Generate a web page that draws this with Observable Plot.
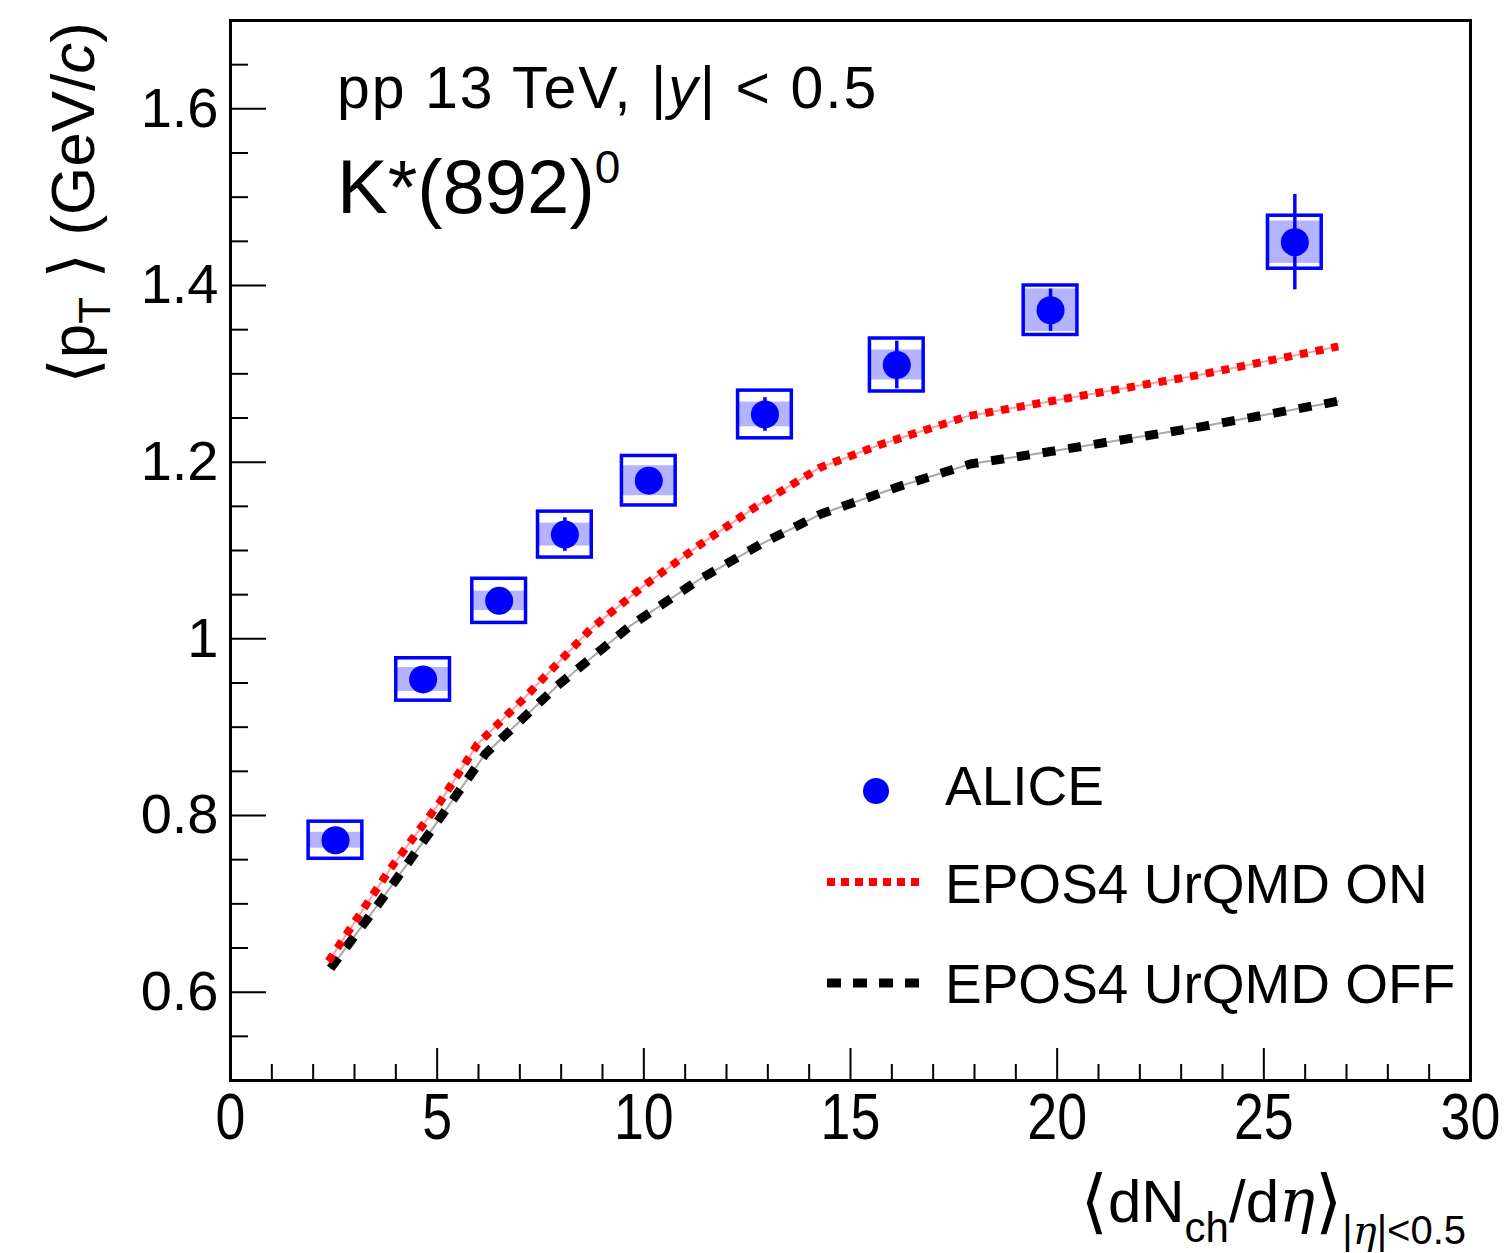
<!DOCTYPE html>
<html><head><meta charset="utf-8">
<script src="https://cdn.jsdelivr.net/npm/d3@7"></script>
<script src="https://cdn.jsdelivr.net/npm/@observablehq/plot@0.6"></script>
<style>
html,body{margin:0;padding:0;background:#fff;}
#chart{width:1507px;height:1253px;}
</style></head><body><div id="chart"></div>
<script>
// ALICE K*(892)0 mean pT vs multiplicity, pp 13 TeV
const dNch      = [2.54, 4.66, 6.50, 8.09, 10.12, 12.93, 16.12, 19.84, 25.75];
const meanPt    = [0.772, 0.954, 1.043, 1.118, 1.179, 1.254, 1.310, 1.372, 1.449];
const statErr   = [0.005, 0.006, 0.009, 0.019, 0.013, 0.019, 0.027, 0.024, 0.054];
const sysTotErr = [0.021, 0.024, 0.025, 0.026, 0.028, 0.027, 0.030, 0.028, 0.030];
const sysUncErr = [0.009, 0.0135, 0.011, 0.013, 0.017, 0.014, 0.017, 0.024, 0.024];

// EPOS4 model curves
const eposOnX  = [2.37, 3.87, 5.08, 5.98, 7.09, 8.71, 10.0, 11.37, 12.82, 14.27, 15.73, 17.83, 19.84, 23.47, 26.8];
const eposOnY  = [0.635, 0.740, 0.816, 0.881, 0.932, 1.011, 1.060, 1.107, 1.153, 1.194, 1.220, 1.252, 1.269, 1.299, 1.331];
const eposOffX = [2.42, 3.63, 4.84, 6.17, 7.91, 9.68, 11.37, 12.82, 14.27, 16.21, 17.9, 19.84, 23.47, 26.8];
const eposOffY = [0.627, 0.703, 0.782, 0.870, 0.947, 1.015, 1.068, 1.107, 1.141, 1.173, 1.198, 1.212, 1.240, 1.269];

const xTicks = [0, 5, 10, 15, 20, 25, 30];
const yTicks = [0.6, 0.8, 1, 1.2, 1.4, 1.6];
const legendLabels = ["ALICE", "EPOS4 UrQMD ON", "EPOS4 UrQMD OFF"];

const W = 1507, H = 1253, mL = 230, mR = 37, mT = 20, mB = 173;
const innerW = W - mL - mR, innerH = H - mT - mB;
const boxHalf = 0.65;
const BLUE = "#0000ff";
const FONT = "'Liberation Sans', Arial, Helvetica, 'DejaVu Sans', sans-serif";
const SERIF = "'DejaVu Serif','Liberation Serif',serif";

const alice = dNch.map((x, i) => ({x, y: meanPt[i], stat: statErr[i], sysT: sysTotErr[i], sysU: sysUncErr[i]}));
const eposOn = eposOnX.map((x, i) => ({x, y: eposOnY[i]}));
const eposOff = eposOffX.map((x, i) => ({x, y: eposOffY[i]}));

const xMinor = d3.range(0, 30.001, 1).filter(v => v % 5 !== 0);
const yMinor = d3.range(0.55, 1.7, 0.05).map(v => +v.toFixed(2)).filter(v => Math.abs(v * 5 - Math.round(v * 5)) > 1e-6);

const plot = Plot.plot({
  width: W, height: H,
  marginLeft: mL, marginRight: mR, marginTop: mT, marginBottom: mB,
  style: {fontFamily: FONT, background: "white", color: "black"},
  x: {domain: [0, 30], label: null},
  y: {domain: [0.5, 1.7], label: null},
  marks: [
    Plot.axisX({ticks: xTicks, tickSize: 0, tickPadding: 13, fontSize: 64, tickFormat: d => String(d), label: null}),
    Plot.axisY({ticks: yTicks, tickSize: 0, tickPadding: 12, fontSize: 56, tickFormat: d => String(d), label: null}),
    Plot.tickX(xTicks, {x: d => d, insetTop: innerH - 32, stroke: "black", strokeWidth: 2}),
    Plot.tickX(xMinor, {x: d => d, insetTop: innerH - 16, stroke: "black", strokeWidth: 2}),
    Plot.tickY(yTicks, {y: d => d, insetRight: innerW - 36, stroke: "black", strokeWidth: 2}),
    Plot.tickY(yMinor, {y: d => d, insetRight: innerW - 18, stroke: "black", strokeWidth: 2}),
    // model curves
    Plot.line(eposOff, {x: "x", y: "y", stroke: "#a8a8a8", strokeWidth: 2}),
    Plot.line(eposOff, {x: "x", y: "y", stroke: "black", strokeWidth: 9, strokeDasharray: "13,13", strokeLinecap: "butt"}),
    Plot.line(eposOn, {x: "x", y: "y", stroke: "#ffa0a0", strokeWidth: 2}),
    Plot.line(eposOn, {x: "x", y: "y", stroke: "#ff0000", strokeWidth: 8, strokeDasharray: "8,8", strokeLinecap: "butt"}),
    // ALICE data
    Plot.rect(alice, {x1: d => d.x - boxHalf, x2: d => d.x + boxHalf, y1: d => d.y - d.sysU, y2: d => d.y + d.sysU, fill: "#b3b3ff"}),
    Plot.rect(alice, {x1: d => d.x - boxHalf, x2: d => d.x + boxHalf, y1: d => d.y - d.sysT, y2: d => d.y + d.sysT, fill: "none", stroke: BLUE, strokeWidth: 3.5}),
    Plot.ruleX(alice, {x: "x", y1: d => d.y - d.stat, y2: d => d.y + d.stat, stroke: BLUE, strokeWidth: 3.5}),
    Plot.dot(alice, {x: "x", y: "y", r: 14, fill: BLUE, stroke: "none"}),
    Plot.frame({stroke: "black", strokeWidth: 3})
  ]
});

document.getElementById("chart").appendChild(plot);
const svg = d3.select(plot);

// narrow x tick labels (as in the original)
svg.selectAll('g[aria-label="x-axis tick label"] text').each(function() {
  const t = this.getAttribute("transform") || "";
  this.setAttribute("transform", t + " scale(0.84,1)");
});

// Y axis title
const yt = svg.append("text")
  .attr("transform", "translate(94,22) rotate(-90)")
  .attr("text-anchor", "end").attr("font-size", 62).attr("font-family", FONT).attr("fill", "black");
yt.append("tspan").attr("font-size", 66).attr("dy", 2).text("\u27E8");
yt.append("tspan").attr("dy", -2).text("p");
yt.append("tspan").attr("font-size", 44).attr("dy", 16).text("T");
yt.append("tspan").attr("font-size", 66).attr("dy", -14).text(" \u27E9");
yt.append("tspan").attr("dy", -2).text(" (GeV/");
yt.append("tspan").attr("font-style", "italic").text("c");
yt.append("tspan").text(")");

// X axis title
const xt = svg.append("text")
  .attr("x", 1466).attr("y", 1222)
  .attr("text-anchor", "end").attr("font-size", 60).attr("font-family", FONT).attr("fill", "black");
xt.append("tspan").attr("font-size", 70).attr("dy", 3).text("\u27E8");
xt.append("tspan").attr("dy", -3).text("dN");
xt.append("tspan").attr("font-size", 42).attr("dy", 20).text("ch");
xt.append("tspan").attr("dy", -20).text("/d");
xt.append("tspan").attr("font-family", SERIF).attr("font-style", "italic").text("\u03B7");
xt.append("tspan").attr("font-size", 70).attr("dy", 3).text("\u27E9");
xt.append("tspan").attr("font-size", 40).attr("dy", 19).text("|");
xt.append("tspan").attr("font-size", 40).attr("font-family", SERIF).attr("font-style", "italic").text("\u03B7");
xt.append("tspan").attr("font-size", 40).text("|<0.5");

// Annotations
const a1 = svg.append("text").attr("x", 337).attr("y", 108).attr("text-anchor", "start")
  .attr("font-size", 59).attr("letter-spacing", 2).attr("font-family", FONT).attr("fill", "black");
a1.append("tspan").text("pp 13 TeV, |");
a1.append("tspan").attr("font-style", "italic").text("y");
a1.append("tspan").text("| < 0.5");

const a2 = svg.append("text").attr("x", 337).attr("y", 213).attr("text-anchor", "start")
  .attr("font-size", 76).attr("font-family", FONT).attr("fill", "black");
a2.append("tspan").text("K*(892)");
a2.append("tspan").attr("font-size", 46).attr("dy", -30).text("0");

// Legend
const lg = svg.append("g").attr("font-family", FONT).attr("font-size", 55).attr("fill", "black").attr("text-anchor", "start");
lg.append("circle").attr("cx", 876).attr("cy", 791).attr("r", 13).attr("fill", BLUE);
lg.append("text").attr("x", 945).attr("y", 805).text(legendLabels[0]);
lg.append("line").attr("x1", 827).attr("x2", 925).attr("y1", 882).attr("y2", 882)
  .attr("stroke", "#ff0000").attr("stroke-width", 8).attr("stroke-dasharray", "8,6");
lg.append("text").attr("x", 945).attr("y", 903).text(legendLabels[1]);
lg.append("line").attr("x1", 827).attr("x2", 920).attr("y1", 983).attr("y2", 983)
  .attr("stroke", "black").attr("stroke-width", 9).attr("stroke-dasharray", "14,12");
lg.append("text").attr("x", 945).attr("y", 1003).text(legendLabels[2]);
</script>
</body></html>
